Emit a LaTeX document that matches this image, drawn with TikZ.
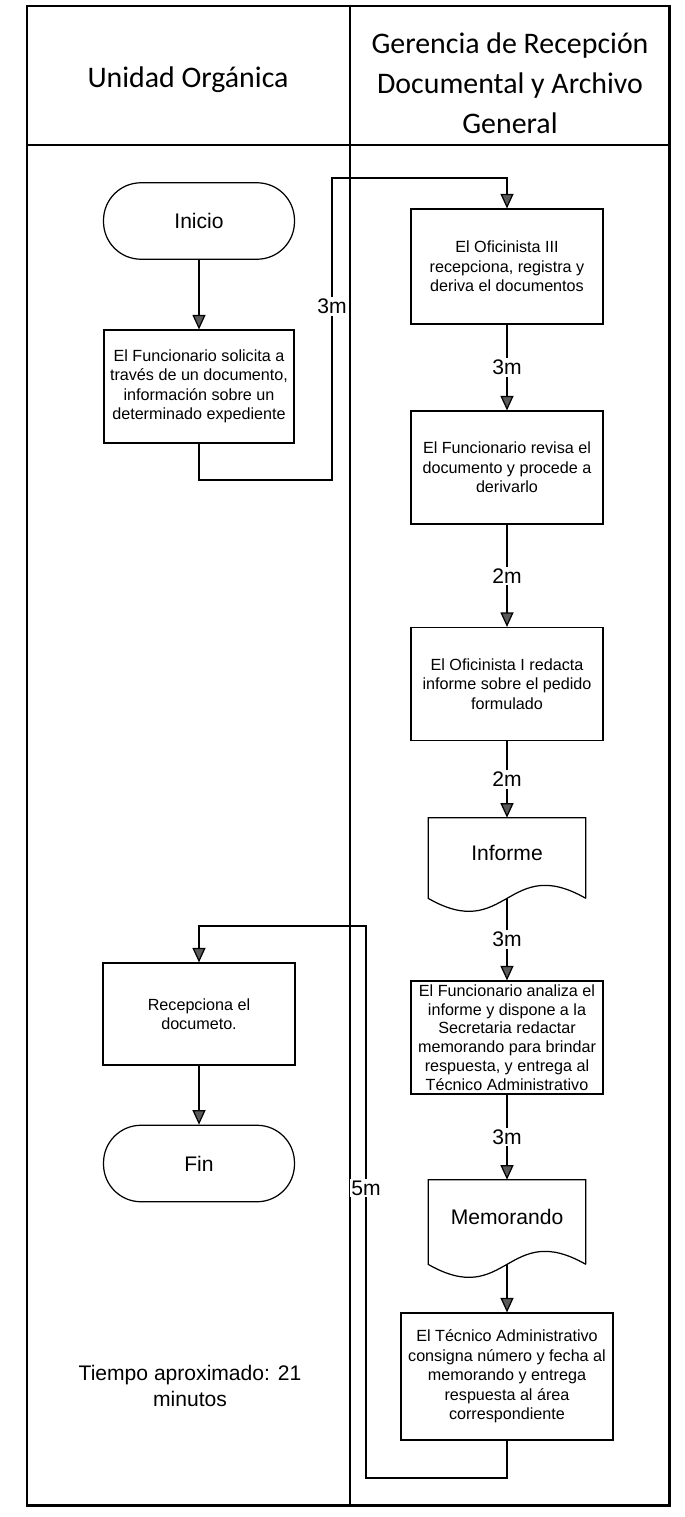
\documentclass[tikz,border=0pt]{standalone}
\usepackage{fontspec}
\setmainfont{Liberation Sans}
\newfontfamily\carlito{Carlito}
\usepackage{tikz}
\usetikzlibrary{arrows.meta}

\begin{document}
\begin{tikzpicture}[x=0.02cm, y=-0.02cm,
   caja/.style={draw, line width=0.7pt, minimum width=3.84cm, minimum height=2.26cm, align=center, inner sep=1pt, font=\fontsize{9.2}{11.1}\selectfont},
   terminal/.style={draw, line width=0.7pt, rounded corners=0.75cm, minimum width=3.82cm, minimum height=1.53cm, font=\fontsize{12}{14}\selectfont},
   doc/.style={minimum width=3.14cm, inner sep=0pt, text depth=0.2cm, font=\fontsize{12}{14}\selectfont},
   etiq/.style={fill=white, inner sep=1pt, font=\fontsize{12}{14}\selectfont},
   flecha/.style={line width=0.7pt, -{Triangle[length=0.29cm, width=0.26cm, fill=black!65]}},
   linea/.style={line width=0.7pt}]
   \useasboundingbox (0,0) rectangle (684,1517);

   % coords
   \coordinate (TL) at (27,6);
   \coordinate (BR) at (669,1505);
   \coordinate (HL) at (27,145);
   \coordinate (HR) at (669,145);
   \coordinate (DT) at (350,6);
   \coordinate (DB) at (350,1505);

   % frame and lanes
   \draw[line width=1.7pt] (TL) rectangle (BR);
   \draw[line width=1.7pt] (HL) -- (HR);
   \draw[line width=1.1pt] (DT) -- (DB);

   % header
   \node[font=\carlito\fontsize{17}{22.8}\selectfont] (unidad) at (188,80) {Unidad Orgánica};
   \node[font=\carlito\fontsize{17}{22.8}\selectfont, align=center] (gerencia) at (510,83) {Gerencia de Recepción\\Documental y Archivo\\General};

   % left lane
   \node[terminal] (inicio) at (199,221) {Inicio};
   \node[caja, minimum width=3.8cm] (solicita) at (199,386.5) {El Funcionario solicita a\\través de un documento,\\información sobre un\\determinado expediente};
   \node[caja, minimum height=2.04cm] (recepciona) at (199,1014) {Recepciona el\\documeto.};
   \node[terminal] (fin) at (199,1163.5) {Fin};
   \node[align=center, font=\fontsize{12}{14.7}\selectfont] (tiempo) at (190,1386) {Tiempo aproximado: 21\\minutos};

   % right lane
   \node[caja, minimum height=2.3cm] (oficinista) at (507,266.5) {El Oficinista III\\recepciona, registra y\\deriva el documentos};
   \node[caja] (revisa) at (507,467.5) {El Funcionario revisa el\\documento y procede a\\derivarlo};
   \node[caja] (redacta) at (507,684) {El Oficinista I redacta\\informe sobre el pedido\\formulado};
   \node[doc, minimum height=1.6cm] (informe) at (507,858) {Informe};
   \node[caja, inner sep=0pt, font=\fontsize{9.2}{10.7}\selectfont] (analiza) at (507,1037.5) {El Funcionario analiza el\\informe y dispone a la\\Secretaria redactar\\memorando para brindar\\respuesta, y entrega al\\Técnico Administrativo};
   \node[doc, minimum height=1.68cm] (memorando) at (507,1222) {Memorando};
   \node[caja, minimum width=4.24cm, minimum height=2.54cm] (tecnico) at (507,1376.5) {El Técnico Administrativo\\consigna número y fecha al\\memorando y entrega\\respuesta al área\\correspondiente};

   % document shapes
   \draw[linea] (informe.south east) -- (informe.north east) -- (informe.north west) -- (informe.south west)
      .. controls +(78.5,45) and +(-78.5,-45) .. (informe.south east);
   \draw[linea] (memorando.south east) -- (memorando.north east) -- (memorando.north west) -- (memorando.south west)
      .. controls +(78.5,45) and +(-78.5,-45) .. (memorando.south east);

   % loop points
   \coordinate (ida1) at (332,480);
   \coordinate (ida2) at (332,178);
   \coordinate (vuelta1) at (366,1478);
   \coordinate (vuelta2) at (366,926);

   % connectors
   \draw[flecha] (inicio) -- (solicita);
   \draw[flecha] (solicita.south) |- (ida1) -- node[etiq, pos=0.575] {3m} (ida2) -| (oficinista.north);
   \draw[flecha] (oficinista) -- node[etiq] {3m} (revisa);
   \draw[flecha] (revisa) -- node[etiq] {2m} (redacta);
   \draw[flecha] (redacta) -- node[etiq] {2m} (informe.north);
   \draw[flecha] (informe.south) -- node[etiq] {3m} (analiza);
   \draw[flecha] (analiza) -- node[etiq] {3m} (memorando.north);
   \draw[flecha] (memorando.south) -- (tecnico);
   \draw[flecha] (tecnico.south) |- (vuelta1) -- node[etiq, pos=0.525] {5m} (vuelta2) -| (recepciona.north);
   \draw[flecha] (recepciona) -- (fin);
\end{tikzpicture}
\end{document}
